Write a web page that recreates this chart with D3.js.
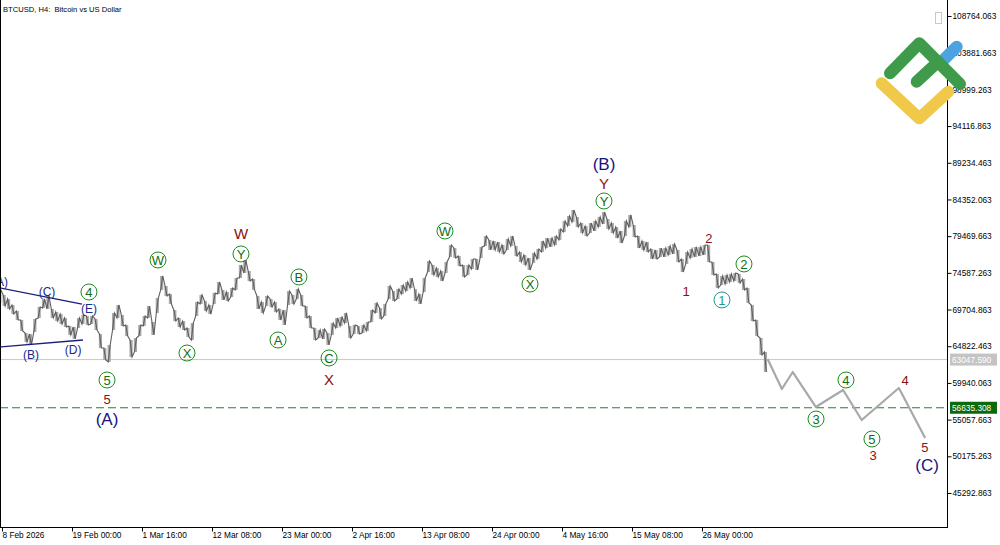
<!DOCTYPE html>
<html><head><meta charset="utf-8">
<script src="https://cdn.jsdelivr.net/npm/d3@7/dist/d3.min.js"></script>
<style>
body{margin:0;background:#fff;}
svg{display:block;font-family:"Liberation Sans",Arial,sans-serif;}
</style>
</head><body>
<svg id="chart" width="1000" height="545"></svg>
<script>
// ---------- DATA ----------
const title = "BTCUSD, H4:  Bitcoin vs US Dollar";
const firstBar = "2026-02-08T00:00:00Z";   // sampled every 16 hours
const barHours = 16;
const highs = [72310,71640,71110,70310,69510,68310,66580,66450,68450,70040,71110,71510,69780,69380,69110,68580,67520,67380,68580,68980,
68850,68850,68450,66450,64590,64990,69250,70310,68980,67650,65650,65920,67650,68850,70180,68050,71240,74170,72840,71770,
69640,68580,68180,67250,67910,70710,71640,70840,70310,71910,73370,72310,72040,72570,73900,75630,76300,74830,73770,71510,
70710,71510,71110,70710,69780,69640,72170,71640,72440,71640,70180,68850,67250,66980,67120,66580,67910,68580,68710,69250,
67520,67650,67520,67650,68050,69640,70580,69910,70440,72840,72170,72440,72970,73370,73900,72440,71770,73900,76160,75630,
75230,74830,76030,78290,77890,76830,75630,75630,76430,76430,78030,79490,78960,78830,78690,78290,79090,79490,78160,77360,
76960,76560,77230,77760,78830,79220,79220,79490,80420,81490,82150,82950,82020,81220,80820,81220,81490,82020,82680,81750,
81220,80690,80160,81490,82290,80950,79490,78830,78690,77760,77630,77890,77890,78160,78430,77630,76430,77360,77760,78030,
78030,78290,78290,76030,74440,74170,74300,74440,74570,74440,73770,72570,70310,68310,65920,64060];
const lows = [70580,70180,69780,69110,68310,66850,65390,64990,66720,68580,69910,69780,68580,68180,67780,67380,66320,65790,67250,67780,
67650,67780,66980,64590,62990,62730,66980,68580,67520,66180,63390,64060,66180,67520,68580,66320,69250,72310,71510,70440,
68180,67380,66980,66050,65650,68850,70440,69510,69110,70440,71770,70980,70840,71370,72310,73900,74570,73500,72310,69780,
69250,70180,70040,69380,68310,67650,70310,70440,71110,70180,68580,67250,65650,65920,65790,64990,66320,67250,67520,67910,
65920,66450,66450,66580,66850,68050,69250,68450,68850,71110,70840,71110,71770,72170,72570,70840,70440,72040,74700,74300,
74040,73500,74570,76700,76560,75500,74040,74300,75100,74970,76560,78160,77630,77630,77360,77100,77630,78160,76830,76030,
75630,74970,75900,76430,77360,77890,78030,78290,78960,80020,80820,81350,80690,79890,79490,79890,80160,80690,81090,80420,
79890,79220,78560,79490,80690,79360,77890,77630,77360,76430,76430,76700,76700,76960,77100,76030,74700,75770,76560,76700,
76830,76960,76030,74300,72570,72970,73100,73370,73500,73240,72310,70580,68180,66180,63660,61390];

// projected path (grey line)
const projDates  = ["2026-06-05T00:00Z","2026-06-07T04:00Z","2026-06-08T20:00Z","2026-06-12T08:00Z","2026-06-16T12:00Z","2026-06-19T08:00Z","2026-06-25T00:00Z","2026-06-29T00:00Z"];
const projPrices = [63120,59130,61390,56740,59000,55010,59270,52610];

// price levels
const currentPrice = 63047.590;
const targetLevel  = 56635.308;

// axes
const yTickValues = [45292.863,50175.263,55057.663,59940.063,64822.463,69704.863,74587.263,79469.663,84352.063,89234.463,94116.863,98999.263,103881.663,108764.063];
const yTickLabels = ["45292.863","50175.263","55057.663","59940.063","64822.463","69704.863","74587.263","79469.663","84352.063","89234.463","94116.863","98999.263","103881.663","108764.063"];
const xTickDates  = ["2026-02-08T08:00Z","2026-02-19T00:00Z","2026-03-01T16:00Z","2026-03-12T08:00Z","2026-03-23T00:00Z","2026-04-02T16:00Z","2026-04-13T08:00Z","2026-04-24T00:00Z","2026-05-04T16:00Z","2026-05-15T08:00Z","2026-05-26T00:00Z"];
const xTickLabels = ["8 Feb 2026","19 Feb 00:00","1 Mar 16:00","12 Mar 08:00","23 Mar 00:00","2 Apr 16:00","13 Apr 08:00","24 Apr 00:00","4 May 16:00","15 May 08:00","26 May 00:00"];

// wave labels
const labelTexts  = ["(A)","(C)","(E)","(B)","(D)","4","5","5","(A)","W","X","W","Y","B","A","C","X","W","X","(B)","Y","Y","2","1","1","2","3","4","4","5","3","5","(C)"];
const labelDates  = ["2026-02-08T01:00Z","2026-02-15T04:30Z","2026-02-21T14:00Z","2026-02-12T18:00Z","2026-02-19T04:00Z","2026-02-21T14:00Z","2026-02-24T08:00Z","2026-02-24T08:00Z","2026-02-24T08:00Z",
  "2026-03-04T02:30Z","2026-03-08T12:30Z","2026-03-16T18:00Z","2026-03-16T18:00Z","2026-03-25T14:00Z","2026-03-22T09:30Z","2026-03-30T04:00Z","2026-03-30T04:00Z",
  "2026-04-16T20:00Z","2026-04-29T19:00Z","2026-05-11T01:30Z","2026-05-11T01:30Z","2026-05-11T01:30Z","2026-05-27T01:30Z","2026-05-23T13:30Z","2026-05-29T01:00Z","2026-06-01T09:30Z",
  "2026-06-12T09:00Z","2026-06-16T22:30Z","2026-06-25T22:30Z","2026-06-20T21:30Z","2026-06-21T01:30Z","2026-06-28T23:30Z","2026-06-29T07:00Z"];
const labelPrices = [73370,72040,69800,63660,64320,72040,60330,57670,55010,
  76300,63920,79760,77100,74040,65650,63260,60460,
  80160,73100,89070,86540,84150,79220,72040,70980,75770,
  55140,60330,60200,52480,50220,51410,48890];
const labelKinds  = ["navyS","navyS","navyS","navyS","navyS","circ","circ","red","navyL",
  "circ","circ","redL","circ","circ","circ","circ","redL",
  "circ","circ","navyL","redL","circ","red","red","circT","circ",
  "circ","circ","red","circ","red","red","navyL"];

// triangle (A)-(E) boundary lines
const triUpperDates = ["2026-02-08T01:00Z","2026-02-20T12:30Z"], triUpperPrices = [72570,70440];
const triLowerDates = ["2026-02-08T01:00Z","2026-02-20T16:00Z"], triLowerPrices = [64720,65650];

// ---------- DRAW ----------
const W = 1000, H = 545, plotR = 947, plotB = 527;
const svg = d3.select("#chart");
const parse = s => new Date(s);

const x = d3.scaleUtc().domain([parse("2026-02-08T08:00Z"), parse("2026-05-26T00:00Z")]).range([2, 702]);
const y = d3.scaleLinear().domain([45292.863, 108764.063]).range([493, 16]);

svg.append("rect").attr("width", W).attr("height", H).attr("fill", "#fff");

svg.append("defs").append("clipPath").attr("id", "plot")
  .append("rect").attr("x", 1).attr("y", 0).attr("width", plotR - 1).attr("height", plotB);

const g = svg.append("g").attr("clip-path", "url(#plot)");

// level lines
g.append("line").attr("x1", 0).attr("x2", plotR).attr("y1", y(currentPrice)).attr("y2", y(currentPrice))
  .attr("stroke", "#c8c8c8").attr("stroke-width", 1);
g.append("line").attr("x1", 0).attr("x2", plotR).attr("y1", y(targetLevel)).attr("y2", y(targetLevel))
  .attr("stroke", "#2f7a2f").attr("stroke-width", 1).attr("stroke-dasharray", "8,4");

// bars
const t0 = parse(firstBar).getTime();
const bars = highs.map((h, i) => ({date: new Date(t0 + i * barHours * 3600e3), hi: h, lo: lows[i]}));
bars.forEach((d, i) => { d.down = i > 0 && (d.hi + d.lo) < (bars[i-1].hi + bars[i-1].lo); });
g.selectAll("rect.bar").data(bars).enter().append("rect").attr("class", "bar")
  .attr("x", d => x(d.date) - 1.6).attr("width", 3.2)
  .attr("y", d => y(d.hi)).attr("height", d => Math.max(1, y(d.lo) - y(d.hi)))
  .attr("fill", "#a9a9a9");
// dark price trace running through each bar's range
const trace = [];
bars.forEach(d => {
  const xc = x(d.date);
  if (d.down) { trace.push([xc - 1, y(d.hi)], [xc + 1, y(d.lo)]); }
  else { trace.push([xc - 1, y(d.lo)], [xc + 1, y(d.hi)]); }
});
g.append("path").attr("d", d3.line()(trace)).attr("fill", "none").attr("stroke", "#5e5e5e").attr("stroke-width", 1.1);

// projection
const proj = projDates.map((d, i) => ({date: parse(d), p: projPrices[i]}));
g.append("path").datum(proj)
  .attr("d", d3.line().x(d => x(d.date)).y(d => y(d.p)))
  .attr("fill", "none").attr("stroke", "#a9a9a9").attr("stroke-width", 2.2).attr("stroke-linejoin", "round");

// triangle lines
[[triUpperDates, triUpperPrices], [triLowerDates, triLowerPrices]].forEach(([ds, ps]) => {
  g.append("line").attr("x1", x(parse(ds[0]))).attr("y1", y(ps[0])).attr("x2", x(parse(ds[1]))).attr("y2", y(ps[1]))
    .attr("stroke", "#1c1c80").attr("stroke-width", 1.3);
});

// labels
const labs = labelTexts.map((t, i) => ({t, x: x(parse(labelDates[i])), y: y(labelPrices[i]), k: labelKinds[i]}));
labs.forEach(d => {
  if (d.k === "circ" || d.k === "circT") {
    const col = d.k === "circT" ? "#1f9a8a" : "#1e8c1e";
    g.append("circle").attr("cx", d.x).attr("cy", d.y).attr("r", 8).attr("fill", "none").attr("stroke", col).attr("stroke-width", 1);
    g.append("text").attr("x", d.x).attr("y", d.y + 0.5).attr("text-anchor", "middle").attr("dominant-baseline", "central")
      .attr("font-size", 13).attr("fill", d.k === "circT" ? "#1f9a8a" : "#0f6e0f").text(d.t);
  } else {
    const st = {navyS: [12, "#1a2a8a"], navyL: [17, "#141482"], red: [13, "#8b1010"], redL: [15, "#8b1010"]}[d.k];
    g.append("text").attr("x", d.x).attr("y", d.y).attr("text-anchor", "middle").attr("dominant-baseline", "central")
      .attr("font-size", st[0]).attr("fill", st[1]).text(d.t);
  }
});

// frame
svg.append("line").attr("x1", 0.5).attr("x2", 0.5).attr("y1", 0).attr("y2", plotB).attr("stroke", "#000");
svg.append("line").attr("x1", 0).attr("x2", plotR + 0.5).attr("y1", plotB + 0.5).attr("y2", plotB + 0.5).attr("stroke", "#000");
svg.append("line").attr("x1", plotR + 0.5).attr("x2", plotR + 0.5).attr("y1", 0).attr("y2", plotB + 1).attr("stroke", "#000");

// right axis
const ya = svg.append("g").attr("transform", `translate(${plotR + 0.5},0)`)
  .call(d3.axisRight(y).tickValues(yTickValues).tickSize(4).tickFormat((d, i) => yTickLabels[i]));
ya.select(".domain").remove();
ya.selectAll("text").attr("x", 5).attr("font-size", 8.3).attr("font-family", "Liberation Sans, Arial, sans-serif").attr("fill", "#000");

// bottom axis
const xa = svg.append("g").attr("transform", `translate(0,${plotB + 0.5})`)
  .call(d3.axisBottom(x).tickValues(xTickDates.map(parse)).tickSize(4).tickFormat((d, i) => xTickLabels[i]));
xa.select(".domain").remove();
xa.selectAll("text").attr("text-anchor", "start").attr("x", 0).attr("y", 5)
  .attr("font-size", 8.3).attr("font-family", "Liberation Sans, Arial, sans-serif").attr("fill", "#000");

// price level tags
function tag(v, txt, bg) {
  svg.append("rect").attr("x", plotR + 3).attr("y", y(v) - 6).attr("width", 47).attr("height", 12).attr("fill", bg);
  svg.append("text").attr("x", plotR + 5).attr("y", y(v)).attr("dominant-baseline", "central")
    .attr("font-size", 8.3).attr("fill", "#fff").text(txt);
}
tag(currentPrice, "63047.590", "#c4c4c4");
tag(targetLevel, "56635.308", "#0c6a0c");

// title
svg.append("text").attr("x", 3).attr("y", 9).attr("dominant-baseline", "central")
  .attr("font-size", 7.6).attr("fill", "#000").style("white-space", "pre").text(title);

// small icon top-right
svg.append("rect").attr("x", 935.5).attr("y", 12.5).attr("width", 6).attr("height", 11)
  .attr("fill", "none").attr("stroke", "#c8c8c8");

// logo
const logo = svg.append("g").attr("fill", "none").attr("stroke-linecap", "round").attr("stroke-linejoin", "round").attr("stroke-width", 12);
logo.append("path").attr("d", "M941.7,61.7 L956.7,46.7").attr("stroke", "#4da3e0");
logo.append("path").attr("d", "M881.7,83.3 L919.3,118.3 L948.3,91.7").attr("stroke", "#f1c94a");
logo.append("path").attr("d", "M890,73.3 L919.3,43.3 L960,84").attr("stroke", "#3f9a4b");
logo.append("path").attr("d", "M916.7,81.7 L938.3,61.7").attr("stroke", "#3f9a4b");
</script>
</body></html>
